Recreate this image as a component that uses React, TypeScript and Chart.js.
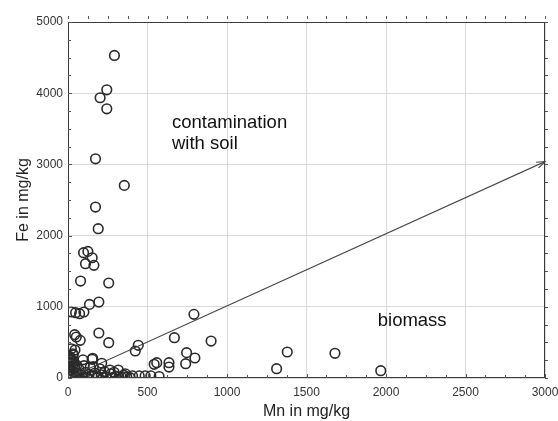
import { useEffect, useRef } from "react";
import { Chart, registerables } from "chart.js";

Chart.register(...registerables);

// ---- data ----
const mnValues = [
  292, 244, 202, 244, 173, 354, 173, 190, 98, 125, 152, 110, 163, 79, 256, 135, 194,
  21, 48, 73, 100, 792, 42, 52, 77, 194, 256, 669, 900, 442, 423, 746, 798, 740,
  558, 542, 635, 635, 1379, 1312, 1679, 1967,
  406, 448, 485, 521, 573,
  21, 31, 10, 94, 152, 33, 101, 159, 212, 264, 316, 44, 33, 23, 155,
  5, 10, 15, 8, 20, 12, 25, 30, 40, 50, 60, 70, 85, 100, 110, 130, 150, 170, 190,
  210, 240, 270, 300, 320, 350, 370, 390, 60, 90, 120, 180, 220, 280, 340, 20, 35,
  45, 18, 28, 55, 230, 290, 200, 140, 360,
];
const feValues = [
  4530, 4048, 3936, 3781, 3079, 2705, 2401, 2097, 1760, 1778, 1689, 1605, 1582, 1362, 1334, 1034, 1067,
  927, 917, 903, 927, 894, 608, 576, 529, 632, 496, 566, 519, 459, 379, 356, 281, 201,
  215, 192, 215, 154, 365, 131, 347, 103,
  30, 30, 30, 30, 20,
  410, 340, 265, 255, 262, 229, 173, 159, 206, 112, 112, 393, 323, 253, 277,
  20, 60, 120, 180, 260, 300, 40, 90, 150, 30, 70, 120, 40, 20, 80, 50, 30, 70, 20,
  45, 15, 60, 25, 10, 40, 15, 5, 10, 5, 10, 5, 8, 5, 5, 10, 200,
  5, 150, 230, 180, 90, 80, 130, 150, 60,
];
const refLineMn = [0, 3000];
const refLineFe = [0, 3040];
const xMajorTicks = [0, 500, 1000, 1500, 2000, 2500, 3000];
const yMajorTicks = [0, 1000, 2000, 3000, 4000, 5000];
const noteTexts = ["contamination", "with soil", "biomass"];
const noteMn = [654, 654, 1948];
const noteFe = [3510, 3215, 735];

const FONT = "'Liberation Sans', Arial, Helvetica, sans-serif";

const decorPlugin = {
  id: "decor",
  afterDraw(chart: any) {
    const { ctx, chartArea, scales } = chart;
    const { left, right, top, bottom } = chartArea;
    const xs = scales.x;
    const ys = scales.y;
    ctx.save();
    // frame
    ctx.strokeStyle = "#3a3a3a";
    ctx.lineWidth = 1;
    ctx.strokeRect(left + 0.5, top + 0.5, right - left - 1, bottom - top - 1);
    // ticks
    ctx.strokeStyle = "#555";
    ctx.beginPath();
    for (let v = 0; v <= 3000; v += 125) {
      const px = Math.round(xs.getPixelForValue(v)) + 0.5;
      const len = v % 500 === 0 ? 4 : 3;
      ctx.moveTo(px, bottom);
      ctx.lineTo(px, bottom - len);
      ctx.moveTo(px, top - 6);
      ctx.lineTo(px, top - 3);
    }
    for (let v = 0; v <= 5000; v += 250) {
      const py = Math.round(ys.getPixelForValue(v)) + 0.5;
      const len = v % 1000 === 0 ? 4 : 3;
      ctx.moveTo(left, py);
      ctx.lineTo(left + len, py);
      ctx.moveTo(right, py);
      ctx.lineTo(right + 3, py);
    }
    ctx.stroke();
    // arrowhead on reference line
    const x1 = xs.getPixelForValue(refLineMn[0]);
    const y1 = ys.getPixelForValue(refLineFe[0]);
    const x2 = xs.getPixelForValue(refLineMn[1]);
    const y2 = ys.getPixelForValue(refLineFe[1]);
    const ang = Math.atan2(y2 - y1, x2 - x1);
    const L = 9;
    ctx.strokeStyle = "#444";
    ctx.lineWidth = 1.1;
    ctx.beginPath();
    ctx.moveTo(x2 - L * Math.cos(ang - 0.35), y2 - L * Math.sin(ang - 0.35));
    ctx.lineTo(x2, y2);
    ctx.lineTo(x2 - L * Math.cos(ang + 0.35), y2 - L * Math.sin(ang + 0.35));
    ctx.stroke();
    // notes
    ctx.fillStyle = "#111";
    ctx.font = `18.5px ${FONT}`;
    ctx.textAlign = "left";
    ctx.textBaseline = "alphabetic";
    noteTexts.forEach((t, i) => {
      ctx.fillText(t, xs.getPixelForValue(noteMn[i]), ys.getPixelForValue(noteFe[i]));
    });
    ctx.restore();
  },
};

export default function App() {
  const ref = useRef<HTMLCanvasElement | null>(null);
  useEffect(() => {
    document.body.style.margin = "0";
    const points = mnValues.map((m, i) => ({ x: m, y: feValues[i] }));
    const line = refLineMn.map((m, i) => ({ x: m, y: refLineFe[i] }));
    const chart = new Chart(ref.current as HTMLCanvasElement, {
      type: "scatter",
      data: {
        datasets: [
          {
            type: "line",
            data: line,
            borderColor: "#444",
            borderWidth: 1.1,
            pointRadius: 0,
            showLine: true,
            fill: false,
          } as any,
          {
            data: points,
            pointStyle: "circle",
            pointRadius: 4.8,
            pointBorderWidth: 1.6,
            borderColor: "#2a2a2a",
            backgroundColor: "rgba(0,0,0,0)",
          } as any,
        ],
      },
      options: {
        animation: false,
        responsive: false,
        layout: { padding: { top: 22, right: 13, left: 0, bottom: 0 } },
        plugins: { legend: { display: false }, tooltip: { enabled: false } },
        scales: {
          x: {
            type: "linear",
            min: 0,
            max: 3000,
            afterBuildTicks: (s: any) => {
              s.ticks = xMajorTicks.map((v) => ({ value: v }));
            },
            afterFit: (s: any) => {
              s.height = 43;
              s.paddingLeft = 0;
              s.paddingRight = 0;
            },
            ticks: {
              font: { size: 12, family: FONT },
              color: "#333",
              padding: 7,
              maxRotation: 0,
              callback: (v: any) => String(v),
            },
            grid: { color: "#dadada", drawTicks: false },
            border: { display: false },
            title: {
              display: true,
              text: "Mn in mg/kg",
              font: { size: 16, family: FONT },
              color: "#222",
              padding: { top: 0, bottom: 0 },
            },
          },
          y: {
            type: "linear",
            min: 0,
            max: 5000,
            afterBuildTicks: (s: any) => {
              s.ticks = yMajorTicks.map((v) => ({ value: v }));
            },
            afterFit: (s: any) => {
              s.width = 68;
              s.paddingTop = 0;
              s.paddingBottom = 0;
            },
            ticks: {
              font: { size: 12, family: FONT },
              color: "#333",
              padding: 5,
              callback: (v: any) => String(v),
            },
            grid: { color: "#dadada", drawTicks: false },
            border: { display: false },
            title: {
              display: true,
              text: "Fe in mg/kg",
              font: { size: 16, family: FONT },
              color: "#222",
              padding: { top: 14, bottom: 0 },
            },
          },
        },
      } as any,
      plugins: [decorPlugin],
    });
    return () => chart.destroy();
  }, []);
  return (
    <div style={{ width: 558, height: 421 }}>
      <canvas ref={ref} width={558} height={421} />
    </div>
  );
}
